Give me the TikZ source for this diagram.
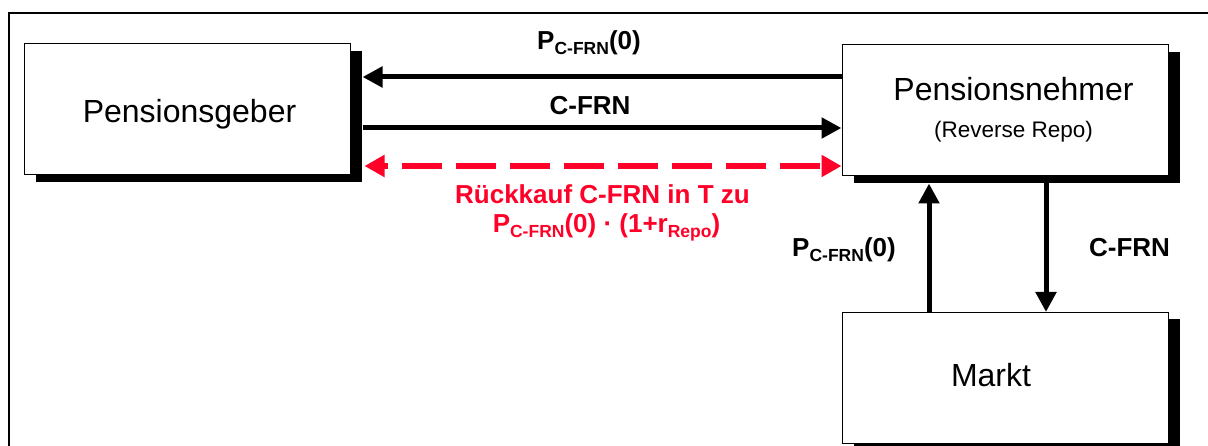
\documentclass[tikz,border=0pt]{standalone}
\usepackage{fontspec}
\setmainfont{Liberation Sans}
\usetikzlibrary{arrows.meta,shadows}
\definecolor{rred}{RGB}{255,0,40}
\newcommand\mysub[1]{\raisebox{-5pt}{\fontsize{17.5}{18}\selectfont #1}}
\begin{document}
\begin{tikzpicture}[x=1pt,y=-1pt,
  box/.style={draw, line width=1pt, fill=white, minimum width=326pt, minimum height=131pt, inner sep=0pt,
    drop shadow={shadow xshift=12pt, shadow yshift=-7pt, fill=black, opacity=1}},
  big/.style={font=\fontsize{32}{38}\selectfont, anchor=base, inner sep=0pt},
  small/.style={font=\fontsize{22.5}{26}\selectfont, anchor=base, inner sep=0pt},
  bl/.style={font=\fontsize{26}{30}\selectfont\bfseries, anchor=base, inner sep=0pt},
  flow/.style={line width=5pt, -{Triangle[length=20pt,width=20pt]}},
  repo/.style={draw=rred, line width=6pt, dash pattern=on 40pt off 14pt, dash phase=35pt,
    {Triangle[length=20pt,width=21pt]}-{Triangle[length=20pt,width=21pt]}},
]
\useasboundingbox (0,0) rectangle (1208,446);
\clip (0,0) rectangle (1208,446);
\fill[white] (0,0) rectangle (1208,446);
\draw[line width=2.5pt] (9,450) -- (9,13) -- (1210,13);

\node[box] (geber) at (187,109.5) {};
\node[box] (nehmer) at (1005,110.5) {};
\node[box] (markt) at (1005,378) {};

\node[big] (geberT) at (189.5,123) {Pensionsgeber};
\node[big] (nehmerT) at (1013.5,101) {Pensionsnehmer};
\node[small] (nehmerS) at (1013.5,138) {(Reverse Repo)};
\node[big] (marktT) at (991,386.5) {Markt};

\draw[flow] (nehmer.west |- 0,77) -- ([xshift=12pt]geber.east |- 0,77);
\draw[flow] ([xshift=12pt]geber.east |- 0,128) -- (nehmer.west |- 0,128);
\draw[repo] ([xshift=14pt]geber.east |- 0,166) -- (nehmer.west |- 0,166);
\draw[flow] (markt.north -| 929,0) -- ([yshift=-7pt]nehmer.south -| 929,0);
\draw[flow] ([yshift=-7pt]nehmer.south -| 1046,0) -- (markt.north -| 1046,0);

\node[bl] (lblP1) at (589,49.5) {P\mysub{C-FRN}(0)};
\node[bl] (lblC1) at (590,115) {C-FRN};
\node[bl, text=rred] (lblR1) at (602.5,204) {Rückkauf C-FRN in T zu};
\node[bl, text=rred] (lblR2) at (606.5,233) {P\mysub{C-FRN}(0) · (1+r\mysub{Repo})};
\node[bl] (lblP2) at (844,256.5) {P\mysub{C-FRN}(0)};
\node[bl] (lblC2) at (1129.5,257) {C-FRN};
\end{tikzpicture}
\end{document}
